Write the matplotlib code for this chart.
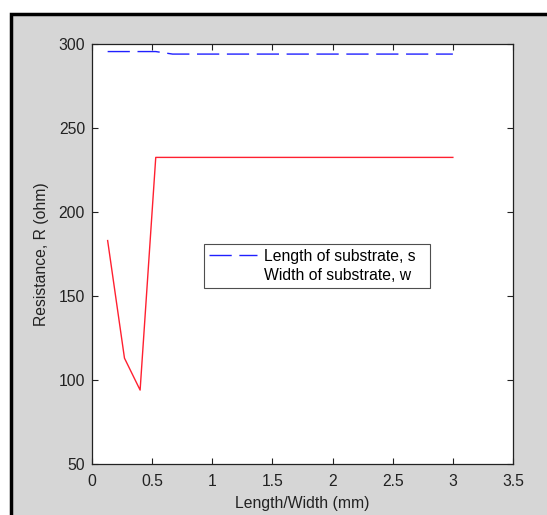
import matplotlib
matplotlib.use("Agg")
import matplotlib.pyplot as plt
from matplotlib.lines import Line2D
from matplotlib.patches import Rectangle

# Data
length_x = [0.13, 0.27, 0.40, 0.53, 0.67, 1.0, 1.5, 2.0, 2.5, 3.0]
length_r = [295.5, 295.5, 295.5, 295.5, 294.0, 294.0, 294.0, 294.0, 294.0, 294.0]
width_x = [0.13, 0.27, 0.40, 0.53, 1.0, 1.5, 2.0, 2.5, 3.0]
width_r = [183.0, 113.0, 94.0, 232.5, 232.5, 232.5, 232.5, 232.5, 232.5]
xticks = [0, 0.5, 1, 1.5, 2, 2.5, 3, 3.5]
xticklabels = ["0", "0.5", "1", "1.5", "2", "2.5", "3", "3.5"]
yticks = [50, 100, 150, 200, 250, 300]

plt.rcParams['font.family'] = ['Liberation Sans', 'DejaVu Sans']

W, H = 547, 515
fig = plt.figure(figsize=(W / 100, H / 100), dpi=100, facecolor='white')
grey = '#d6d6d6'
fig.patches.append(Rectangle((10.5 / W, -0.05), 1.2, (H - 13.5) / H + 0.05,
                             transform=fig.transFigure, facecolor=grey,
                             edgecolor='black', linewidth=2.5, zorder=-10))

ax = fig.add_axes([92 / W, (H - 464) / H, (513 - 92) / W, (464 - 44) / H])
ax.set_facecolor('white')

blue = '#2020ff'
ax.plot(length_x, length_r, color=blue, linewidth=1.0, linestyle=(0, (16, 5.5)))
ax.plot(width_x, width_r, color='#ff2030', linewidth=1.0)

fs = 11.3
ax.set_xlim(0, 3.5)
ax.set_ylim(50, 300)
ax.set_xticks(xticks)
ax.set_xticklabels(xticklabels)
ax.set_yticks(yticks)
ax.tick_params(direction='in', length=4, width=0.8, top=True, right=True,
               labelsize=fs, colors='#222222')
ax.tick_params(axis='x', pad=7)
ax.tick_params(axis='y', pad=5)
for s in ax.spines.values():
    s.set_linewidth(0.9)
    s.set_color('#222222')

ax.set_xlabel('Length/Width (mm)', fontsize=fs, color='#222222', labelpad=5)
ax.set_ylabel('Resistance, R (ohm)', fontsize=fs, color='#222222', labelpad=7)

handles = [Line2D([], [], color=blue, linewidth=1.0, linestyle=(0, (16, 5.5))),
           Line2D([], [], linestyle='none')]
leg = ax.legend(handles, ['Length of substrate, s', 'Width of substrate, w'],
                loc='lower left', bbox_to_anchor=(0.266, 0.419, 0.537, 0.121),
                mode='expand', borderaxespad=0, fontsize=fs, frameon=True,
                fancybox=False, handlelength=3.1, handletextpad=0.4,
                labelspacing=0.3, borderpad=0.3)
leg.get_frame().set_edgecolor('#222222')
leg.get_frame().set_linewidth(0.8)

fig.savefig('out.png', dpi=100, facecolor='white')
